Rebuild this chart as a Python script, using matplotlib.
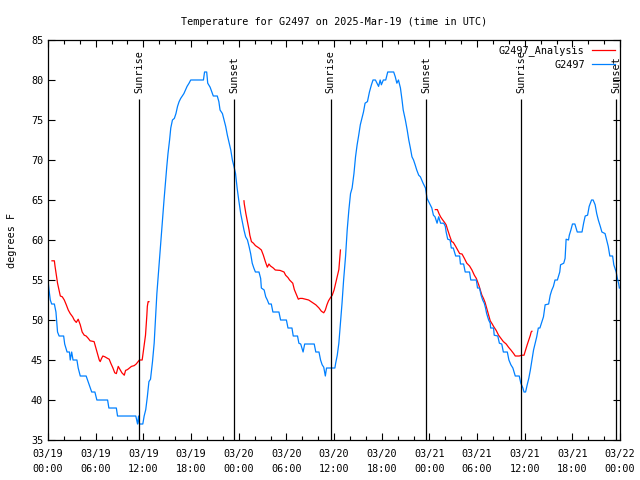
import matplotlib

matplotlib.use("Agg")
import matplotlib.pyplot as plt
import numpy as np
from matplotlib.lines import Line2D

TITLE = "Temperature for G2497 on 2025-Mar-19 (time in UTC)"
Y_LABEL = "degrees F"

# hours since 03/19 00:00 UTC
tick_hours = [0, 6, 12, 18, 24, 30, 36, 42, 48, 54, 60, 66, 72]
tick_labels = [
    "03/19\n00:00", "03/19\n06:00", "03/19\n12:00", "03/19\n18:00",
    "03/20\n00:00", "03/20\n06:00", "03/20\n12:00", "03/20\n18:00",
    "03/21\n00:00", "03/21\n06:00", "03/21\n12:00", "03/21\n18:00",
    "03/22\n00:00",
]

sun_hours = [11.5, 23.45, 35.55, 47.6, 59.55, 71.5]
sun_labels = ["Sunrise", "Sunset", "Sunrise", "Sunset", "Sunrise", "Sunset"]

blue_hours = [
    0.0, 0.13, 0.29, 0.46, 0.8, 1.0, 1.1, 1.2, 1.4, 1.97, 2.1, 2.4, 2.7, 2.8, 2.98,
    3.15, 3.64, 3.8, 4.06, 4.8, 5.15, 5.5, 5.9, 6.15, 7.5, 7.66, 8.6, 8.75, 11.05,
    11.27, 11.4, 11.5, 11.93, 12.1, 12.3, 12.5, 12.7, 12.9, 13.15, 13.36, 13.57,
    13.7, 13.86, 14.03, 14.2, 14.4, 14.6, 14.8, 14.95, 15.1, 15.3, 15.45, 15.66,
    15.9, 16.1, 16.3, 16.5, 16.7, 17.1, 17.5, 17.75, 17.96, 19.56, 19.7, 19.97,
    20.1, 20.4, 20.7, 20.8, 21.3, 21.5, 21.65, 21.95, 22.15, 22.36, 22.57, 22.8,
    23.0, 23.2, 23.4, 23.6, 23.8, 24.0, 24.25, 24.45, 24.66, 24.87, 25.1, 25.3,
    25.5, 25.7, 25.9, 26.1, 26.55, 26.76, 26.85, 27.2, 27.4, 27.6, 27.8, 28.1,
    28.3, 29.06, 29.27, 30.0, 30.2, 30.7, 30.86, 31.4, 31.57, 31.8, 32.1, 32.3,
    33.5, 33.7, 34.1, 34.3, 34.5, 34.7, 34.9, 35.05, 36.1, 36.2, 36.4, 36.6, 36.8,
    37.0, 37.2, 37.44, 37.65, 37.86, 38.07, 38.27, 38.5, 38.7, 38.9, 39.1, 39.3,
    39.5, 39.7, 39.9, 40.2, 40.45, 40.7, 40.9, 41.2, 41.4, 41.6, 41.8, 41.95,
    42.2, 42.5, 42.75, 43.5, 43.7, 43.9, 44.1, 44.35, 44.55, 44.7, 44.97, 45.2,
    45.4, 45.6, 45.8, 46.0, 46.2, 46.4, 46.65, 46.86, 47.2, 47.5, 47.7, 47.9,
    48.1, 48.3, 48.5, 48.7, 48.96, 49.16, 49.4, 49.8, 50.0, 50.1, 50.3, 50.6,
    50.75, 51.0, 51.3, 51.8, 51.9, 52.3, 52.5, 53.05, 53.2, 53.9, 54.05, 54.3,
    54.5, 54.7, 54.9, 55.06, 55.2, 55.45, 55.65, 55.7, 56.07, 56.15, 56.6, 56.8,
    57.1, 57.3, 57.8, 58.0, 58.25, 58.5, 58.8, 59.3, 59.5, 59.76, 59.9, 60.1,
    60.3, 60.5, 60.7, 60.9, 61.1, 61.3, 61.5, 61.7, 61.9, 62.15, 62.35, 62.56,
    63.0, 63.2, 63.4, 63.6, 63.8, 64.1, 64.4, 64.5, 64.9, 65.07, 65.2, 65.5,
    65.6, 65.8, 66.0, 66.3, 66.6, 67.2, 67.4, 67.6, 67.9, 68.1, 68.4, 68.6,
    68.85, 69.05, 69.25, 69.5, 69.7, 70.1, 70.3, 70.5, 70.7, 71.05, 71.2, 71.5,
    71.65, 71.8, 71.9,
]
blue_temps = [
    55, 53.75, 52.5, 52, 52, 51, 49.7, 48.5, 48, 48, 47, 46, 46, 45, 46,
    45, 45, 44, 43, 43, 42, 41, 41, 40, 40, 39, 39, 38, 38,
    37, 38, 37, 37, 38, 38.8, 40.4, 42.3, 42.6, 44.8, 47.1, 50.8,
    53.3, 55.4, 57.5, 59.8, 62.5, 65, 67.5, 69.2, 70.8, 72.5, 74, 75,
    75.2, 75.8, 76.7, 77.3, 77.7, 78.3, 79.2, 79.6, 80, 80, 81, 81,
    79.6, 79.1, 78.3, 78, 78, 77.3, 76.25, 75.8, 75, 74.2, 73.1, 72.1,
    71.25, 70, 69.2, 68.3, 66.5, 65, 63.3, 62.3, 61.25, 60.4, 60, 59.2,
    58.3, 57.1, 56.5, 56, 56, 55.2, 54, 53.75, 52.9, 52.5, 52, 52,
    51, 51, 50, 50, 49, 49, 48, 48, 47.1, 47, 46, 47,
    47, 46, 46, 45, 44.4, 44.1, 43, 44, 44, 44.6, 45.6, 47.1, 49.6,
    52.1, 55, 57.9, 61.25, 63.75, 65.8, 66.5, 68.3, 70.4, 71.9, 73.1, 74.4,
    75.2, 76, 77.1, 77.3, 78.5, 79.4, 80, 80, 79.6, 79.2, 80, 79.4,
    80, 80, 81, 81, 80.4, 79.6, 80, 79, 77.5, 76.25, 75, 73.75,
    72.5, 71.5, 70.4, 70, 69.4, 68.75, 68.1, 67.9, 67.1, 66.5, 65.2, 64.8,
    64.4, 64, 63.1, 62.9, 62.1, 62.9, 62.1, 62.1, 61.7, 61, 60.1, 60,
    59, 59, 58, 58, 57, 57, 56, 56, 55, 55, 54, 54,
    53.1, 52.5, 52.1, 51.5, 50.8, 50, 49.6, 49, 49, 48.1, 48, 47.1,
    47, 46, 46, 45, 44.4, 44, 43, 43, 42.1, 41.5, 41, 41,
    41.9, 42.7, 43.75, 45, 46.25, 47.1, 47.9, 49, 49, 49.8, 50.4, 51.9,
    52, 53.1, 53.75, 54.2, 55, 55, 56, 56.9, 57.1, 57.7, 60.1, 60,
    60.6, 61.25, 62, 62, 61, 61, 62.1, 63, 63.1, 64.2, 65, 65,
    64.4, 63.3, 62.5, 61.7, 61, 60.8, 60, 59.2, 58, 58, 56.9, 56,
    55.2, 54.6, 54,
]

# analysis runs, separated by NaN gaps
red_hours = [
    0.5, 0.8, 0.88, 1.05, 1.2, 1.38, 1.55, 1.8, 2.05, 2.3, 2.55, 2.8, 3.1, 3.3,
    3.56, 3.8, 4.06, 4.3, 4.56, 4.8, 5.07, 5.3, 5.8, 6.03, 6.24, 6.45, 6.57, 6.74,
    6.9, 7.16, 7.5, 7.7, 7.9, 8.17, 8.4, 8.6, 8.84, 9.1, 9.3, 9.6, 9.76, 10.0,
    10.26, 10.5, 10.85, 11.1, 11.35, 11.5, 11.85, 11.93, 12.1, 12.27, 12.35,
    12.44, 12.5, 12.6, 12.7,
    np.nan,
    24.66, 24.7, 24.9, 25.1, 25.3, 25.4, 25.6, 25.85, 26.1, 26.55, 26.85, 27.1,
    27.35, 27.6, 27.8, 28.0, 28.35, 28.6, 29.2, 29.7, 29.9, 30.2, 30.4, 30.8,
    31.0, 31.3, 31.5, 31.7, 32.0, 32.4, 32.8, 33.25, 33.7, 34.1, 34.4, 34.7,
    34.9, 35.1, 35.3, 35.55, 35.77, 36.0, 36.2, 36.4, 36.6, 36.7, 36.8,
    np.nan,
    48.74, 49.0, 49.2, 49.4, 49.6, 49.9, 50.1, 50.3, 50.55, 50.8, 51.0, 51.3,
    51.55, 51.8, 52.1, 52.4, 52.7, 53.05, 53.35, 53.65, 53.9, 54.2, 54.4, 54.6,
    54.8, 55.0, 55.2, 55.45, 55.65, 55.9, 56.07, 56.4, 56.7, 57.0, 57.3, 57.66,
    57.95, 58.25, 58.6, 58.8, 59.3, 59.6, 59.9, 60.1, 60.3, 60.5, 60.7, 60.8,
    60.9,
]
red_temps = [
    57.4, 57.4, 56.75, 55.6, 54.6, 53.75, 53, 52.9, 52.5, 51.9, 51.25, 50.8, 50.4, 50,
    49.7, 50.1, 49.4, 48.5, 48.1, 48, 47.7, 47.4, 47.3, 46.5, 45.8, 45, 44.8, 45.2,
    45.5, 45.4, 45.2, 45.1, 44.6, 44, 43.4, 43.3, 44.2, 43.75, 43.4, 43.1, 43.7, 43.8,
    44.0, 44.2, 44.3, 44.5, 44.8, 45, 45, 45.6, 46.9, 48.1, 49.25,
    50.6, 51.7, 52.3, 52.3,
    np.nan,
    64.9, 64.5, 63.3, 62.3, 61.25, 60.6, 59.8, 59.6, 59.3, 59.0, 58.75, 58.1,
    57.3, 56.6, 57, 56.75, 56.5, 56.25, 56.2, 56.0, 55.6, 55.3, 55, 54.6,
    53.8, 53.1, 52.6, 52.7, 52.7, 52.6, 52.5, 52.2, 51.9, 51.5, 51.1, 50.9,
    51.25, 51.9, 52.4, 52.8, 53.1, 53.75, 54.6, 55.4, 56.3, 57.5, 58.75,
    np.nan,
    63.8, 63.8, 63.3, 62.9, 62.6, 62.2, 61.9, 61.25, 60.5, 59.8, 59.7, 59.2,
    58.75, 58.3, 58.25, 57.7, 57.1, 56.75, 56.25, 55.6, 55.2, 54.4, 53.75, 53.1,
    52.7, 52.2, 51.5, 50.6, 49.9, 49.5, 49.2, 48.7, 48.1, 47.7, 47.3, 47.0,
    46.6, 46.25, 45.8, 45.5, 45.5, 45.6, 45.6, 46.25, 46.9, 47.5, 48.1, 48.5,
    48.6,
]

RED = "#ff0000"
BLUE = "#0080ff"
FONT = "DejaVu Sans Mono"
FS = 7.3


def main() -> int:
    plt.rcParams["font.family"] = FONT
    plt.rcParams["font.size"] = FS

    fig = plt.figure(figsize=(6.4, 4.8), dpi=100)
    ax = fig.add_axes([0.075, 0.0833, 0.894, 0.8334])

    ax.plot(red_hours, red_temps, color=RED, linewidth=0.9)
    ax.plot(blue_hours, blue_temps, color=BLUE, linewidth=0.9)

    ax.vlines(sun_hours, 35, 77.6, color="black", linewidth=0.9)
    for hour, label in zip(sun_hours, sun_labels):
        ax.text(hour, 78.4, label, rotation=90, ha="center", va="bottom")

    ax.set_xlim(0, 72)
    ax.set_ylim(35, 85)
    ax.set_xticks(tick_hours)
    ax.set_xticklabels(tick_labels, linespacing=1.6)
    ax.set_xticks(np.arange(0, 73, 2), minor=True)
    ax.set_yticks(np.arange(35, 86, 5))
    ax.tick_params(which="both", direction="in", top=True, right=True, width=0.8)
    ax.tick_params(which="major", length=5)
    ax.tick_params(axis="x", which="major", pad=6.5)
    ax.tick_params(which="minor", length=3)
    for spine in ax.spines.values():
        spine.set_linewidth(0.9)

    ax.set_title(TITLE, fontsize=FS, pad=11)
    ax.set_ylabel(Y_LABEL, labelpad=10)

    handles = [
        Line2D([], [], color=RED, linewidth=0.9),
        Line2D([], [], color=BLUE, linewidth=0.9),
    ]
    ax.legend(
        handles, ["G2497_Analysis", "G2497"], loc="upper right", frameon=False,
        markerfirst=False, handlelength=2.3, borderaxespad=0.1, labelspacing=0.35,
        handletextpad=0.7,
    )

    fig.savefig("out.png", dpi=100)
    return 0


if __name__ == "__main__":
    raise SystemExit(main())
